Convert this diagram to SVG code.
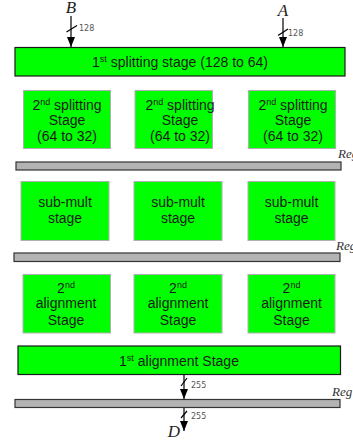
<svg xmlns="http://www.w3.org/2000/svg" width="353" height="442" viewBox="0 0 353 442">
<defs>
<marker id="ah" markerWidth="10" markerHeight="8" refX="10" refY="4" orient="auto" markerUnits="userSpaceOnUse" viewBox="0 0 10 8">
<path d="M0,0 L10,4 L0,8 Z" fill="#000"/>
</marker>
</defs>
<style>
.big{fill:#00ff00;stroke:#1a1a1a;stroke-width:1.2}
.box{fill:#00ff00;stroke:#b0b0b0;stroke-width:1}
.reg{fill:#b3b3b3;stroke:#333;stroke-width:1.2}
.t{font-family:"Liberation Sans",Arial,sans-serif;font-size:14px;fill:#1a1a1a;text-anchor:middle}
.sup{font-size:9px}
.lbl{font-family:"Liberation Serif","DejaVu Serif",serif;font-style:italic;font-size:17px;fill:#222;text-anchor:middle}
.reglbl{font-family:"Liberation Serif","DejaVu Serif",serif;font-style:italic;font-size:13px;fill:#333}
.w{font-family:"DejaVu Sans",sans-serif;font-size:8px;fill:#555}
.ln{stroke:#000;stroke-width:1.2;fill:none}
</style>
<g id="top">
<rect class="big" x="15" y="47.5" width="330" height="28.5"/>
<text class="t" x="180" y="67">1<tspan class="sup" dy="-5">st</tspan><tspan dy="5"> splitting stage (128 to 64)</tspan></text>
</g>
<g id="split1"><rect class="box" x="23.5" y="90.5" width="87" height="58"/>
<text class="t" x="67" y="110">2<tspan class="sup" dy="-5">nd</tspan><tspan dy="5"> splitting</tspan></text>
<text class="t" x="67" y="125">Stage</text><text class="t" x="67" y="141">(64 to 32)</text></g>
<g id="split2"><rect class="box" x="135" y="90.5" width="77.5" height="58"/>
<text class="t" x="180" y="110">2<tspan class="sup" dy="-5">nd</tspan><tspan dy="5"> splitting</tspan></text>
<text class="t" x="180" y="125">Stage</text><text class="t" x="180" y="141">(64 to 32)</text></g>
<g id="split3"><rect class="box" x="248.5" y="90.5" width="87" height="58"/>
<text class="t" x="293" y="110">2<tspan class="sup" dy="-5">nd</tspan><tspan dy="5"> splitting</tspan></text>
<text class="t" x="293" y="125">Stage</text><text class="t" x="293" y="141">(64 to 32)</text></g>
<g id="reg1"><rect class="reg" x="16" y="162" width="325" height="8"/>
<text class="reglbl" x="338" y="158">Reg</text></g>
<g id="sub1"><rect class="box" x="21" y="181.5" width="88" height="59"/>
<text class="t" x="65" y="207">sub-mult</text><text class="t" x="65" y="223">stage</text></g>
<g id="sub2"><rect class="box" x="134" y="181.5" width="88" height="59"/>
<text class="t" x="178" y="207">sub-mult</text><text class="t" x="178" y="223">stage</text></g>
<g id="sub3"><rect class="box" x="248" y="181.5" width="87" height="59"/>
<text class="t" x="291.5" y="207">sub-mult</text><text class="t" x="291.5" y="223">stage</text></g>
<g id="reg2"><rect class="reg" x="14" y="253" width="326" height="8.5"/>
<text class="reglbl" x="336" y="250">Reg</text></g>
<g id="align1"><rect class="box" x="23" y="274.5" width="87.5" height="58.5"/>
<text class="t" x="66" y="293">2<tspan class="sup" dy="-5">nd</tspan></text>
<text class="t" x="66" y="308">alignment</text><text class="t" x="66" y="325">Stage</text></g>
<g id="align2"><rect class="box" x="134" y="274.5" width="88" height="58.5"/>
<text class="t" x="178" y="293">2<tspan class="sup" dy="-5">nd</tspan></text>
<text class="t" x="178" y="308">alignment</text><text class="t" x="178" y="325">Stage</text></g>
<g id="align3"><rect class="box" x="248" y="274.5" width="87" height="58.5"/>
<text class="t" x="291.5" y="293">2<tspan class="sup" dy="-5">nd</tspan></text>
<text class="t" x="291.5" y="308">alignment</text><text class="t" x="291.5" y="325">Stage</text></g>
<g id="bottom"><rect class="big" x="18" y="346" width="322.5" height="28.5"/>
<text class="t" x="179" y="365.5">1<tspan class="sup" dy="-5">st</tspan><tspan dy="5"> alignment Stage</tspan></text></g>
<g id="reg3"><rect class="reg" x="15" y="399.5" width="325" height="8"/>
<text class="reglbl" x="332" y="396">Reg</text></g>
<g id="labels">
<text class="lbl" x="71" y="13">B</text>
<text class="lbl" x="283" y="16">A</text>
<text class="lbl" x="174" y="437">D</text>
</g>
<g id="connectors">
<line class="ln" x1="71" y1="16" x2="71" y2="47" marker-end="url(#ah)"/>
<line class="ln" x1="66.5" y1="32" x2="77" y2="25.5" stroke-width="1"/>
<text class="w" x="79" y="31">128</text>
<line class="ln" x1="283" y1="18" x2="283" y2="47" marker-end="url(#ah)"/>
<line class="ln" x1="278" y1="35.5" x2="288" y2="29" stroke-width="1"/>
<text class="w" x="288" y="36">128</text>
<line class="ln" x1="184" y1="375" x2="184" y2="399" marker-end="url(#ah)"/>
<line class="ln" x1="181" y1="386" x2="187" y2="378" stroke-width="1"/>
<text class="w" x="191" y="388">255</text>
<line class="ln" x1="184" y1="408" x2="184" y2="431" marker-end="url(#ah)"/>
<line class="ln" x1="181" y1="418" x2="187" y2="411" stroke-width="1"/>
<text class="w" x="191" y="419">255</text>
</g>
</svg>
